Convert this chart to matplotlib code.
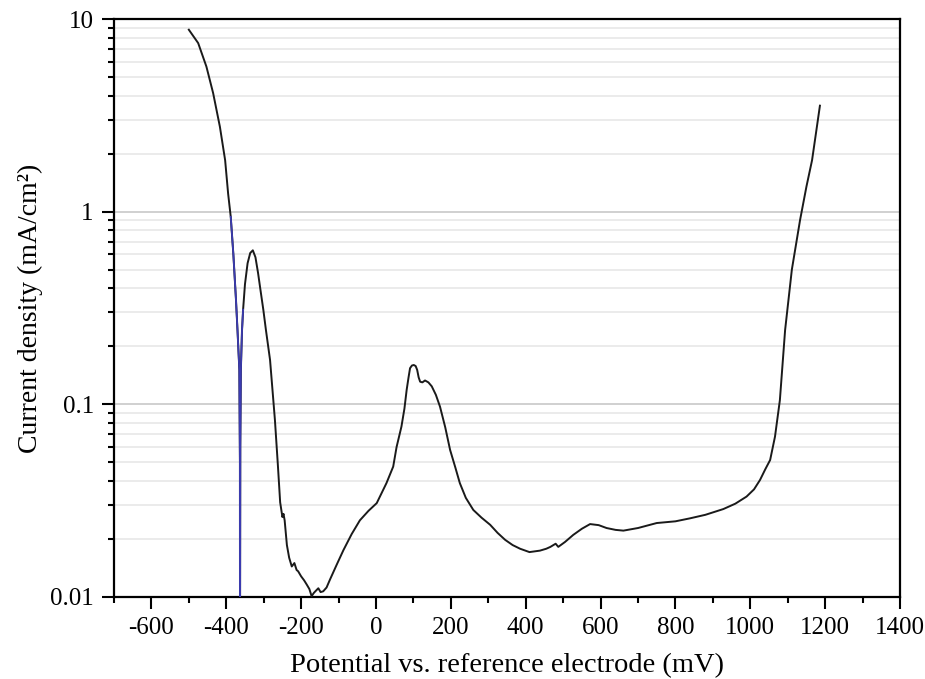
import numpy as np
import matplotlib
matplotlib.use("Agg")
import matplotlib.pyplot as plt
from matplotlib.ticker import MultipleLocator, LogLocator, FixedLocator, NullFormatter

plt.rcParams['font.family'] = ['Liberation Serif', 'DejaVu Serif']
plt.rcParams['axes.unicode_minus'] = False

# cathodic branch (down to corrosion potential)
cath_e = [-500, -475, -453, -435, -417, -403, -395, -388, -381, -374, -370, -365, -363.5, -363.2]
cath_i = [8.8, 7.5, 5.66, 4.12, 2.76, 1.85, 1.24, 0.94, 0.6, 0.348, 0.243, 0.151, 0.05, 0.002]

# anodic branch
anod_e = [-363, -362.5, -361, -358, -355, -350, -343, -336, -329, -322, -315, -308, -301, -294,
          -283, -270, -262, -256, -250, -247, -244, -238, -232, -225, -218, -212, -208, -200,
          -192, -185, -178, -172, -166, -160, -154, -148, -141, -132, -123, -105, -87, -65,
          -43, -20, 2, 15, 28, 46, 55, 68, 76, 82, 87, 91, 96, 101, 106, 110, 114, 118, 124,
          131, 140, 149, 160, 171, 185, 198, 212, 224, 240, 260, 282, 305, 325, 345, 365, 385,
          410, 438, 455, 466, 474, 480, 487, 505, 527, 550, 572, 595, 616, 640, 661, 700, 750,
          800, 839, 880, 928, 960, 990, 1010, 1026, 1040, 1053, 1066, 1079, 1093, 1111, 1133,
          1150, 1165, 1176, 1186]
anod_i = [0.01, 0.06, 0.15, 0.24, 0.31, 0.42, 0.54, 0.61, 0.63, 0.58, 0.48, 0.385, 0.31, 0.243,
          0.17, 0.083, 0.048, 0.031, 0.026, 0.027, 0.025, 0.0186, 0.016, 0.0144, 0.0150, 0.0138,
          0.0136, 0.0128, 0.0122, 0.0116, 0.0110, 0.0101, 0.0105, 0.0108, 0.0111, 0.0106, 0.0107,
          0.0112, 0.0123, 0.0147, 0.0175, 0.0212, 0.025, 0.028, 0.0307, 0.0346, 0.039, 0.0475,
          0.060, 0.0766, 0.095, 0.119, 0.138, 0.154, 0.159, 0.160, 0.158, 0.151, 0.138, 0.131,
          0.130, 0.133, 0.130, 0.124, 0.112, 0.0973, 0.076, 0.058, 0.047, 0.039, 0.0327, 0.0283,
          0.0258, 0.0237, 0.0215, 0.0198, 0.0186, 0.0178, 0.0171, 0.0174, 0.0178, 0.0182, 0.0186,
          0.0189, 0.0182, 0.0193, 0.021, 0.0226, 0.0239, 0.0236, 0.0228, 0.0223, 0.0221, 0.0228,
          0.0242, 0.0247, 0.0256, 0.0267, 0.0286, 0.0305, 0.0332, 0.0362, 0.0405, 0.046, 0.0514,
          0.068, 0.105, 0.243, 0.5, 0.906, 1.35, 1.85, 2.6, 3.55]

fig = plt.figure(figsize=(9.25, 6.79), dpi=100)
ax = fig.add_axes([0.1232, 0.1208, 0.8498, 0.8512])

ax.set_yscale('log')
ax.set_xlim(-700, 1400)
ax.set_ylim(0.01, 10)

# horizontal grid lines
for v in [0.1, 1]:
    ax.axhline(v, color='#c8c8c8', lw=1.2, zorder=0)
for d in [0.01, 0.1, 1]:
    for k in range(2, 10):
        ax.axhline(d * k, color='#e8e8e8', lw=1.2, zorder=0)

cath_e = np.array(cath_e)
cath_i = np.array(cath_i)
anod_e = np.array(anod_e)
anod_i = np.array(anod_i)

ax.plot(cath_e, cath_i, color='#1a1a1a', lw=1.4, zorder=3)
ax.plot(anod_e, anod_i, color='#1a1a1a', lw=1.4, zorder=3)
# part near the corrosion potential is drawn blue
m = cath_i < 1.0
ax.plot(cath_e[m], cath_i[m], color='#3b3bb0', lw=1.3, zorder=4)
m = (anod_e < -354)
ax.plot(anod_e[m], anod_i[m], color='#3b3bb0', lw=1.3, zorder=4)

ax.xaxis.set_major_locator(MultipleLocator(200))
ax.xaxis.set_minor_locator(MultipleLocator(100))
ax.yaxis.set_major_locator(FixedLocator([0.01, 0.1, 1, 10]))
ax.yaxis.set_minor_locator(LogLocator(base=10, subs=np.arange(2, 10)))
ax.yaxis.set_minor_formatter(NullFormatter())
ax.set_yticklabels(['0.01', '0.1', '1', '10'])

ax.tick_params(axis='both', which='major', direction='out', length=8.5, width=1.5,
               labelsize=18, pad=6, top=False, right=False)
ax.tick_params(axis='both', which='minor', direction='out', length=4.5, width=1.5,
               top=False, right=False)
for s in ax.spines.values():
    s.set_linewidth(1.6)

ax.set_xlabel('Potential vs. reference electrode (mV)', fontsize=20.5, labelpad=10)
ax.set_ylabel('Current density (mA/cm²)', fontsize=20, labelpad=5)

fig.savefig('out.png', dpi=100)
